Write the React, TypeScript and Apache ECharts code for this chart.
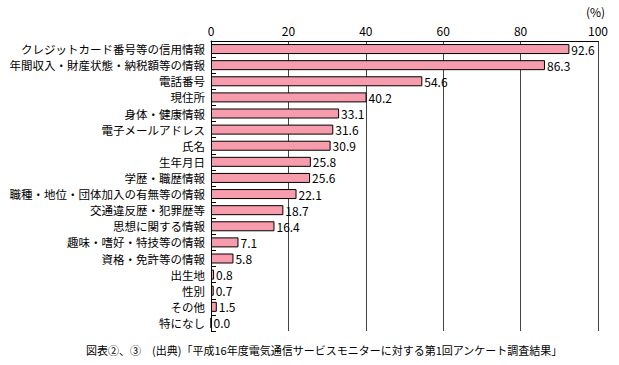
import React, { useEffect, useRef } from "react";
import * as echarts from "echarts";

const categories = [
  "クレジットカード番号等の信用情報",
  "年間収入・財産状態・納税額等の情報",
  "電話番号",
  "現住所",
  "身体・健康情報",
  "電子メールアドレス",
  "氏名",
  "生年月日",
  "学歴・職歴情報",
  "職種・地位・団体加入の有無等の情報",
  "交通違反歴・犯罪歴等",
  "思想に関する情報",
  "趣味・嗜好・特技等の情報",
  "資格・免許等の情報",
  "出生地",
  "性別",
  "その他",
  "特になし",
];
const values = [92.6, 86.3, 54.6, 40.2, 33.1, 31.6, 30.9, 25.8, 25.6, 22.1, 18.7, 16.4, 7.1, 5.8, 0.8, 0.7, 1.5, 0.0];
const unitLabel = "(%)";
const footnote = "図表②、③　(出典)「平成16年度電気通信サービスモニターに対する第1回アンケート調査結果」";

const FONT = "'Noto Sans CJK JP', 'Noto Sans', sans-serif";

export default function App() {
  const ref = useRef<HTMLDivElement>(null);
  useEffect(() => {
    if (!ref.current) return;
    const chart = echarts.init(ref.current, undefined, { renderer: "svg" });
    chart.setOption({
      animation: false,
      backgroundColor: "#ffffff",
      textStyle: { fontFamily: FONT },
      grid: { left: 211, right: 21, top: 41, bottom: 34, containLabel: false },
      graphic: [
        {
          type: "text",
          left: 586,
          top: 5,
          style: { text: unitLabel, fontSize: 12, lineHeight: 12, fontFamily: FONT, fill: "#000" },
        },
        {
          type: "text",
          left: 86,
          top: 344,
          style: { text: footnote, fontSize: 11, lineHeight: 12, fontFamily: FONT, fill: "#000" },
        },
      ],
      xAxis: {
        type: "value",
        position: "top",
        min: 0,
        max: 100,
        interval: 20,
        axisLine: { show: true, lineStyle: { color: "#000", width: 1 } },
        axisTick: { show: false },
        axisLabel: { color: "#000", fontSize: 12, lineHeight: 12, margin: 5, fontFamily: FONT },
        splitLine: { show: true, lineStyle: { color: "#444", width: 1 } },
      },
      yAxis: {
        type: "category",
        data: categories,
        inverse: true,
        axisLine: { show: true, lineStyle: { color: "#000", width: 1 } },
        axisTick: { show: true, inside: true, length: 5, lineStyle: { color: "#000" } },
        axisLabel: { color: "#000", fontSize: 11.5, lineHeight: 13, margin: 6, fontFamily: FONT },
        splitLine: { show: false },
      },
      series: [
        {
          type: "bar",
          data: values,
          barWidth: 10,
          itemStyle: { color: "#F79CAD", borderColor: "#000", borderWidth: 1 },
          label: {
            show: true,
            position: "right",
            distance: 2,
            color: "#000",
            fontSize: 12,
            lineHeight: 12,
            fontFamily: FONT,
            formatter: (p: any) => Number(p.value).toFixed(1),
          },
        },
      ],
    });
    return () => chart.dispose();
  }, []);
  return (
    <div
      ref={ref}
      style={{ position: "fixed", left: 0, top: 0, width: 619, height: 365 }}
    />
  );
}
